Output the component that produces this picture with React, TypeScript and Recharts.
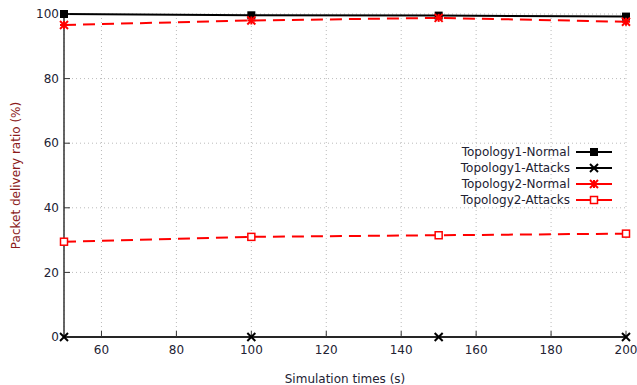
import React from "react";
import { LineChart, Line, XAxis, YAxis, CartesianGrid } from "recharts";

// simulation times (s)
const times = [50, 100, 150, 200];
// packet delivery ratio (%)
const topo1Normal = [100, 99.6, 99.5, 99.2];
const topo1Attacks = [0, 0, 0, 0];
const topo2Normal = [96.6, 98.0, 98.8, 97.6];
const topo2Attacks = [29.5, 31.0, 31.5, 32.0];

const xTicks = [60, 80, 100, 120, 140, 160, 180, 200];
const yTicks = [0, 20, 40, 60, 80, 100];

const data = times.map((t, i) => ({
  t,
  t1n: topo1Normal[i],
  t1a: topo1Attacks[i],
  t2n: topo2Normal[i],
  t2a: topo2Attacks[i],
}));

const RED = "#ff0000";
const BLACK = "#000000";
const FONT = "DejaVu Sans, sans-serif";
const TEXT = "#222233";

function FilledSquare({ cx, cy, color }: any) {
  if (cx == null || cy == null) return <g />;
  return <rect x={cx - 4} y={cy - 4} width={8} height={8} fill={color} />;
}

function Cross({ cx, cy, color }: any) {
  if (cx == null || cy == null) return <g />;
  const s = 4;
  return (
    <g stroke={color} strokeWidth={2}>
      <line x1={cx - s} y1={cy - s} x2={cx + s} y2={cy + s} />
      <line x1={cx - s} y1={cy + s} x2={cx + s} y2={cy - s} />
    </g>
  );
}

function Star({ cx, cy, color }: any) {
  if (cx == null || cy == null) return <g />;
  const s = 4;
  return (
    <g stroke={color} strokeWidth={2}>
      <line x1={cx - s} y1={cy - s} x2={cx + s} y2={cy + s} />
      <line x1={cx - s} y1={cy + s} x2={cx + s} y2={cy - s} />
      <line x1={cx - s} y1={cy} x2={cx + s} y2={cy} />
      <line x1={cx} y1={cy - s} x2={cx} y2={cy + s} />
    </g>
  );
}

function OpenSquare({ cx, cy, color }: any) {
  if (cx == null || cy == null) return <g />;
  return (
    <rect x={cx - 3.5} y={cy - 3.5} width={7} height={7} fill="#fff" stroke={color} strokeWidth={1.5} />
  );
}

const SERIES = [
  { key: "t1n", name: "Topology1-Normal", color: BLACK, dash: undefined, Dot: FilledSquare },
  { key: "t1a", name: "Topology1-Attacks", color: BLACK, dash: undefined, Dot: Cross },
  { key: "t2n", name: "Topology2-Normal", color: RED, dash: "12 7", Dot: Star },
  { key: "t2a", name: "Topology2-Attacks", color: RED, dash: "12 7", Dot: OpenSquare },
];

function LegendBox() {
  return (
    <div style={{ position: "absolute", left: 440, top: 144, fontFamily: FONT, fontSize: 12, color: TEXT }}>
      {SERIES.map((s) => (
        <div key={s.key} style={{ display: "flex", alignItems: "center", justifyContent: "flex-end", height: 16 }}>
          <span style={{ whiteSpace: "nowrap", width: 130, textAlign: "right" }}>{s.name}</span>
          <svg width={42} height={16} style={{ marginLeft: 4 }}>
            <line x1={2} y1={8} x2={38} y2={8} stroke={s.color} strokeWidth={2} />
            <s.Dot cx={20} cy={8} color={s.color} />
          </svg>
        </div>
      ))}
    </div>
  );
}

function YLabel({ viewBox }: any) {
  const cy = viewBox.y + viewBox.height / 2;
  return (
    <text
      x={16}
      y={cy}
      transform={`rotate(-90, 16, ${cy})`}
      textAnchor="middle"
      dominantBaseline="central"
      fill="#8b1a1a"
      fontSize={12}
      fontFamily={FONT}
    >
      Packet delivery ratio (%)
    </text>
  );
}

const axisLine = { stroke: "#333", strokeWidth: 1.5 };
const tickStyle = { fontSize: 12, fill: TEXT, fontFamily: FONT };

export default function App() {
  return (
    <div style={{ position: "relative", width: 637, height: 385, background: "#fff" }}>
      <style>{"body{margin:0}"}</style>
      <LineChart
        width={637}
        height={385}
        data={data}
        margin={{ top: 14, right: 11, left: 0, bottom: 0 }}
      >
        <CartesianGrid stroke="#bbb" strokeDasharray="1 3" />
        <XAxis
          dataKey="t"
          type="number"
          domain={[50, 200]}
          ticks={xTicks}
          height={48}
          tickSize={-6}
          tickMargin={14}
          axisLine={axisLine}
          tickLine={{ stroke: "#333" }}
          tick={tickStyle}
          label={{ value: "Simulation times (s)", position: "insideBottom", offset: 2, fill: TEXT, fontSize: 12, fontFamily: FONT }}
        />
        <XAxis
          xAxisId="top"
          dataKey="t"
          type="number"
          domain={[50, 200]}
          ticks={xTicks}
          orientation="top"
          height={0}
          tickSize={-6}
          tickFormatter={() => ""}
          axisLine={axisLine}
          tickLine={{ stroke: "#333" }}
        />
        <YAxis
          type="number"
          domain={[0, 100]}
          ticks={yTicks}
          width={64}
          tickSize={-6}
          tickMargin={11}
          axisLine={axisLine}
          tickLine={{ stroke: "#333" }}
          tick={tickStyle}
          label={<YLabel />}
        />
        <YAxis
          yAxisId="right"
          type="number"
          domain={[0, 100]}
          ticks={yTicks}
          orientation="right"
          width={0}
          tickSize={-6}
          tickFormatter={() => ""}
          axisLine={axisLine}
          tickLine={{ stroke: "#333" }}
        />
        {SERIES.map((s) => (
          <Line
            key={s.key}
            dataKey={s.key}
            name={s.name}
            type="linear"
            stroke={s.color}
            strokeWidth={2}
            strokeDasharray={s.dash}
            dot={(p: any) => <s.Dot key={`${s.key}-${p.index}`} cx={p.cx} cy={p.cy} color={s.color} />}
            activeDot={false}
            isAnimationActive={false}
          />
        ))}
      </LineChart>
      <LegendBox />
    </div>
  );
}
